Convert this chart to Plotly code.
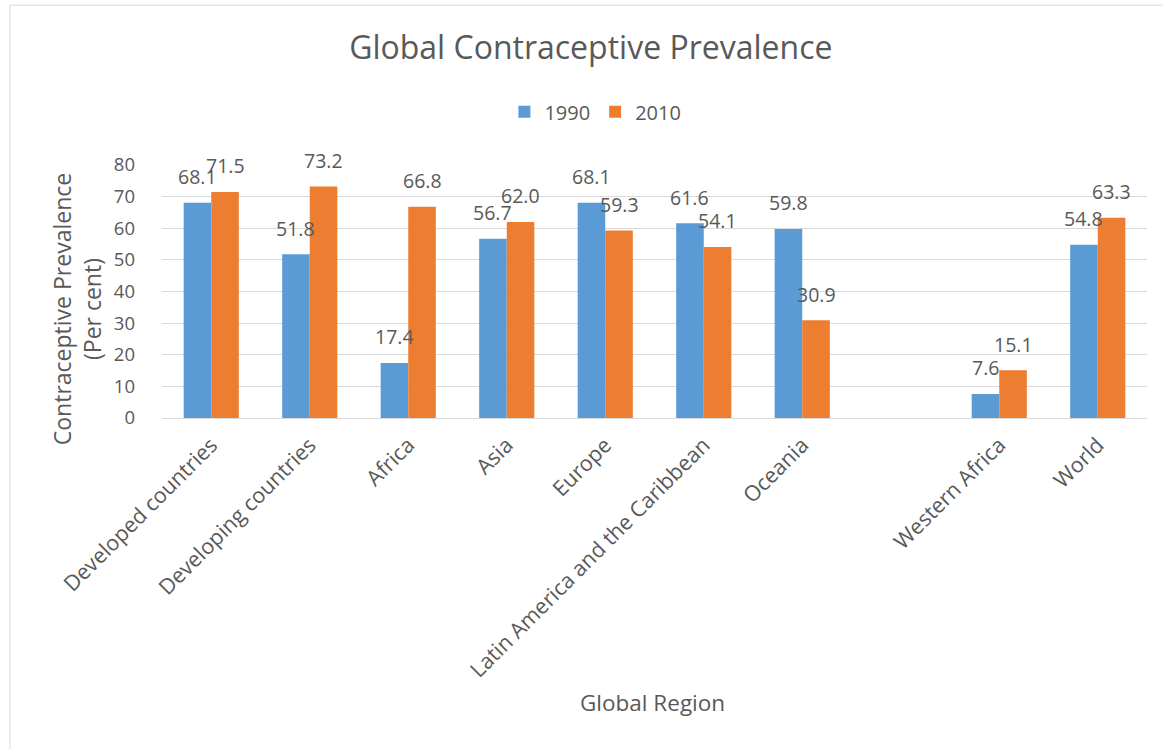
import plotly.graph_objects as go

categories = ["Developed countries", "Developing countries", "Africa", "Asia", "Europe",
              "Latin America and the Caribbean", "Oceania", " ", "Western Africa", "World"]
values_1990 = [68.1, 51.8, 17.4, 56.7, 68.1, 61.6, 59.8, None, 7.6, 54.8]
values_2010 = [71.5, 73.2, 66.8, 62.0, 59.3, 54.1, 30.9, None, 15.1, 63.3]
series_names = ["1990", "2010"]
y_ticks = [0, 10, 20, 30, 40, 50, 60, 70, 80]

BLUE = "#5B9BD5"
ORANGE = "#ED7D31"
TXT = "#595959"
FONT = "Open Sans"

fig = go.Figure()
fig.add_trace(go.Bar(name=series_names[0], x=categories, y=values_1990, marker_color=BLUE,
                     marker_line_width=0))
fig.add_trace(go.Bar(name=series_names[1], x=categories, y=values_2010, marker_color=ORANGE,
                     marker_line_width=0))

annotations = []
bar_px = 13.8
for vals, sh in ((values_1990, -bar_px), (values_2010, bar_px)):
    for c, v in zip(categories, vals):
        if v is None:
            continue
        annotations.append(dict(x=c, y=v, xref="x", yref="y", text=f"{v:.1f}", showarrow=False,
                                xshift=sh, yshift=26, yanchor="middle",
                                font=dict(family=FONT, size=19.5, color=TXT)))

annotations.append(dict(text="Global Region", xref="paper", yref="paper", x=0.4975, y=-1.126,
                        showarrow=False, xanchor="center", yanchor="middle",
                        font=dict(family=FONT, size=22.5, color=TXT)))
annotations.append(dict(text="Contraceptive Prevalence<br>(Per cent)", xref="paper", yref="paper",
                        x=-0.0863, y=0.43, textangle=-90, showarrow=False,
                        xanchor="center", yanchor="middle",
                        font=dict(family=FONT, size=23, color=TXT)))

fig.update_layout(
    width=1163, height=749,
    paper_bgcolor="white", plot_bgcolor="white",
    margin=dict(l=162, r=16, t=165, b=331),
    barmode="group", bargap=0.44, bargroupgap=0,
    title=dict(text="Global Contraceptive Prevalence", x=0.508, xanchor="center",
               y=0.936, yanchor="middle", font=dict(family=FONT, size=32, color=TXT)),
    legend=dict(orientation="h", x=0.44, xanchor="center", y=1.21, yanchor="middle",
                font=dict(family=FONT, size=20, color=TXT),
                traceorder="normal"),
    annotations=annotations,
    shapes=[dict(type="rect", xref="paper", yref="paper", x0=-0.1543, x1=1.03, y0=-1.4, y1=1.632,
                 line=dict(color="#D9D9D9", width=1), fillcolor="rgba(0,0,0,0)", layer="below")],
    font=dict(family=FONT, color=TXT),
)
fig.update_xaxes(tickangle=-45, tickfont=dict(family=FONT, size=21.5, color=TXT),
                 showline=True, linecolor="#D9D9D9", linewidth=1, ticks="", showgrid=False,
                 ticklabelstandoff=5)
fig.update_yaxes(range=[0, 80], tickvals=y_ticks, tickfont=dict(family=FONT, size=18.5, color=TXT),
                 showgrid=True, gridcolor="#D9D9D9", gridwidth=1, zeroline=False,
                 showline=False, ticks="", ticklabelstandoff=26)

fig.write_html("out.html")
